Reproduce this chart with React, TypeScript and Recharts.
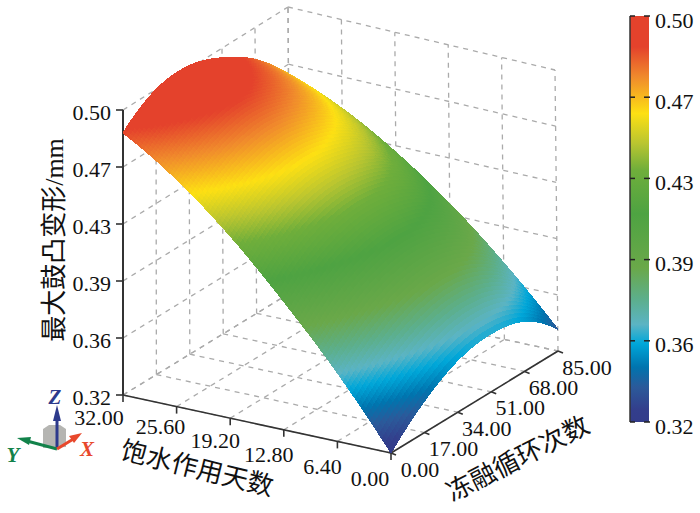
import { ScatterChart, Scatter, XAxis, YAxis, ReferenceLine, ReferenceArea } from "recharts";

const dayTicks = [32, 25.6, 19.2, 12.8, 6.4, 0];
const cycleTicks = [0, 17, 34, 51, 68, 85];
const zTicks = [0.5, 0.464, 0.428, 0.392, 0.356, 0.32];
const dayLabels = ["32.00", "25.60", "19.20", "12.80", "6.40", "0.00"];
const cycleLabels = ["0.00", "17.00", "34.00", "51.00", "68.00", "85.00"];
const zLabels = ["0.50", "0.47", "0.43", "0.39", "0.36", "0.32"];

// deformation: one row per day tick, one column per cycle tick
const deformation = [
  [0.4855, 0.5, 0.502, 0.494, 0.48, 0.458],
  [0.464, 0.479, 0.4845, 0.479, 0.466, 0.444],
  [0.436, 0.453, 0.4595, 0.456, 0.445, 0.424],
  [0.402, 0.42, 0.4285, 0.428, 0.419, 0.399],
  [0.364, 0.383, 0.394, 0.396, 0.388, 0.369],
  [0.32, 0.34, 0.353, 0.357, 0.352, 0.334],
];

const colorStops: [number, string][] = [
  [0, "#333c8a"],
  [0.03, "#333e8c"],
  [0.086, "#2b5a9a"],
  [0.135, "#0074ae"],
  [0.193, "#00a7d9"],
  [0.24, "#5bb4c4"],
  [0.3, "#5caf8e"],
  [0.38, "#6aa849"],
  [0.513, "#4ea342"],
  [0.62, "#6fae3b"],
  [0.686, "#b9c530"],
  [0.76, "#fde013"],
  [0.85, "#f08a2c"],
  [0.924, "#e4422c"],
  [1, "#e4422c"],
];

const FONT = '"Liberation Serif", "Noto Sans CJK SC", serif';
const WIDTH = 700;
const HEIGHT = 513;

// corners of the plot box in chart units
const floorA = [123, 395];
const floorB = [391, 453];
const floorC = [558, 351];
const floorD = [290, 293];
const topA = [123, 110];
const topB = [390, 173];
const topC = [555, 70];
const topD = [288, 7];

function project(days: number, cycles: number, z: number) {
  const u = 1 - days / 32;
  const v = cycles / 85;
  const w = (z - 0.32) / 0.18;
  const at = (i: number) => {
    const f = (1 - u) * (1 - v) * floorA[i] + u * (1 - v) * floorB[i] + (1 - u) * v * floorD[i] + u * v * floorC[i];
    const t = (1 - u) * (1 - v) * topA[i] + u * (1 - v) * topB[i] + (1 - u) * v * topD[i] + u * v * topC[i];
    return f + (t - f) * w;
  };
  return { px: at(0), py: at(1) };
}

function hexRgb(h: string) {
  return [1, 3, 5].map((i) => parseInt(h.slice(i, i + 2), 16));
}

function colorFor(z: number) {
  const f = Math.min(1, Math.max(0, (z - 0.32) / 0.18));
  for (let i = 1; i < colorStops.length; i++) {
    if (f <= colorStops[i][0]) {
      const [f0, c0] = colorStops[i - 1];
      const [f1, c1] = colorStops[i];
      const t = (f - f0) / (f1 - f0);
      const a = hexRgb(c0);
      const b = hexRgb(c1);
      return `rgb(${a.map((x, k) => Math.round(x + (b[k] - x) * t)).join(",")})`;
    }
  }
  return colorStops[colorStops.length - 1][1];
}

// smooth shading between table values, as a surface renderer does
function spline(p: number[], t: number) {
  const n = p.length - 1;
  const i = Math.min(n - 1, Math.floor(t));
  const s = t - i;
  const p0 = p[i];
  const p1 = p[i + 1];
  const m0 = i > 0 ? (p1 - p[i - 1]) / 2 : p1 - p0 - (p[i + 2] - 2 * p1 + p0) / 2;
  const m1 = i < n - 1 ? (p[i + 2] - p0) / 2 : p1 - p0 + (p1 - 2 * p0 + p[i - 1]) / 2;
  return (
    (2 * s ** 3 - 3 * s ** 2 + 1) * p0 +
    (s ** 3 - 2 * s ** 2 + s) * m0 +
    (-2 * s ** 3 + 3 * s ** 2) * p1 +
    (s ** 3 - s ** 2) * m1
  );
}

function surfaceZ(r: number, c: number) {
  const col = deformation.map((row) => spline(row, c));
  return spline(col, r);
}

const SHADE = 18;
const nShade = SHADE * (dayTicks.length - 1);
const mShade = SHADE * (cycleTicks.length - 1);

const surfaceCells: any[] = [];
const vertex = (i: number, j: number) => {
  const r = i / SHADE;
  const c = j / SHADE;
  const z = surfaceZ(r, c);
  return { ...project(32 - r * 6.4, c * 17, z), z };
};
// back to front so nearer cells paint over farther ones
for (let i = 0; i < nShade; i++) {
  for (let j = mShade - 1; j >= 0; j--) {
    const a = vertex(i, j);
    const b = vertex(i + 1, j);
    const c = vertex(i + 1, j + 1);
    const d = vertex(i, j + 1);
    surfaceCells.push({
      px: a.px,
      py: a.py,
      offs: [b, c, d].map((q) => [q.px - a.px, q.py - a.py]),
      fill: colorFor((a.z + b.z + c.z + d.z) / 4),
    });
  }
}

const CellShape = (props: any) => {
  const { cx, cy, payload } = props;
  const pts = [[0, 0], ...payload.offs].map(([x, y]: number[]) => `${cx + x},${cy + y}`).join(" ");
  return <polygon points={pts} fill={payload.fill} stroke={payload.fill} strokeWidth={1} shapeRendering="crispEdges" />;
};

const TextShape = (props: any) => {
  const { cx, cy, payload } = props;
  return (
    <text
      x={cx}
      y={cy}
      textAnchor={payload.anchor ?? "middle"}
      dominantBaseline="central"
      fontFamily={FONT}
      fontSize={payload.size ?? 22}
      fill="#111"
      transform={payload.angle ? `rotate(${payload.angle} ${cx} ${cy})` : undefined}
    >
      {payload.text}
    </text>
  );
};

const TriadShape = (props: any) => {
  const { cx, cy } = props;
  const it = { fontFamily: FONT, fontStyle: "italic", fontWeight: 700, fontSize: 21 } as const;
  return (
    <g>
      <path d={`M${cx - 14} ${cy - 1} v-19 l6 -4 h11 l6 4 v18 z`} fill="#b5b5b2" />
      <line x1={cx} y1={cy} x2={cx} y2={cy - 34} stroke="#2d3a8c" strokeWidth={3} />
      <polygon points={`${cx},${cy - 44} ${cx - 4},${cy - 28} ${cx + 4},${cy - 28}`} fill="#2d3a8c" />
      <line x1={cx} y1={cy} x2={cx - 30} y2={cy - 8} stroke="#12824a" strokeWidth={3} />
      <polygon points={`${cx - 40},${cy - 11} ${cx - 26},${cy - 12} ${cx - 28},${cy - 4}`} fill="#12824a" />
      <line x1={cx} y1={cy} x2={cx + 18} y2={cy - 11} stroke="#e8482c" strokeWidth={3} />
      <polygon points={`${cx + 25},${cy - 16} ${cx + 12},${cy - 13} ${cx + 17},${cy - 6}`} fill="#e8482c" />
      <text x={cx - 2} y={cy - 45} textAnchor="middle" fill="#2d3a8c" {...it}>Z</text>
      <text x={cx - 44} y={cy + 13} textAnchor="middle" fill="#12824a" {...it}>Y</text>
      <text x={cx + 30} y={cy + 7} textAnchor="middle" fill="#e8482c" {...it}>X</text>
    </g>
  );
};

// small hand nudges for the day labels, measured against the floor edge
const dayLabelDx = [-24, -16, -15, -15, -15, -21];
const dayLabelDy = [22, 20, 22, 25, 25, 25];

const textPoints = [
  ...zLabels.map((text, i) => ({ px: 111, py: project(32, 0, zTicks[i]).py + 2, text, anchor: "end" })),
  ...dayLabels.map((text, i) => {
    const p = project(dayTicks[i], 0, 0.32);
    return { px: p.px + dayLabelDx[i], py: p.py + dayLabelDy[i], text };
  }),
  ...cycleLabels.map((text, i) => {
    const p = project(0, cycleTicks[i], 0.32);
    return { px: p.px + 29, py: p.py + 16, text };
  }),
  ...zLabels.map((text, i) => ({ px: 655, py: 20 + 81.2 * i, text, anchor: "start" })),
  { px: 54, py: 240, text: "最大鼓凸变形/mm", size: 26, angle: -90 },
  { px: 197, py: 469, text: "饱水作用天数", size: 26, angle: 14 },
  { px: 518, py: 459, text: "冻融循环次数", size: 26, angle: -27 },
];

const seg = (a: { px: number; py: number }, b: { px: number; py: number }) =>
  [{ x: a.px, y: a.py }, { x: b.px, y: b.py }] as any;

const gridSegments = [
  ...zTicks.flatMap((z) => [
    seg(project(32, 0, z), project(32, 85, z)),
    seg(project(32, 85, z), project(0, 85, z)),
  ]),
  ...cycleTicks.map((c) => seg(project(32, c, 0.32), project(32, c, 0.5))),
  ...dayTicks.map((d) => seg(project(d, 85, 0.32), project(d, 85, 0.5))),
  ...cycleTicks.map((c) => seg(project(32, c, 0.32), project(0, c, 0.32))),
  ...dayTicks.map((d) => seg(project(d, 0, 0.32), project(d, 85, 0.32))),
];

const shift = (p: { px: number; py: number }, dx: number, dy: number) => ({ px: p.px + dx, py: p.py + dy });

const axisSegments = [
  seg(project(32, 0, 0.32), project(32, 0, 0.5)),
  seg(project(32, 0, 0.32), project(0, 0, 0.32)),
  seg(project(0, 0, 0.32), project(0, 85, 0.32)),
  ...zTicks.map((z) => seg(project(32, 0, z), shift(project(32, 0, z), -7, 0))),
  ...dayTicks.map((d) => seg(project(d, 0, 0.32), shift(project(d, 0, 0.32), 0, 7))),
  ...cycleTicks.map((c) => seg(project(0, c, 0.32), shift(project(0, c, 0.32), 5, 2))),
];

const barTicks = zTicks.map((_, i) => 16 + 81.2 * i);

export default function App() {
  return (
    <div style={{ position: "absolute", left: 0, top: 0, width: WIDTH, height: HEIGHT }}>
      <style>{`.surface-layer { filter: blur(0.7px); }`}</style>
      <ScatterChart width={WIDTH} height={HEIGHT} margin={{ top: 0, right: 0, bottom: 0, left: 0 }}>
        <defs>
          <linearGradient id="colorbar" x1="0" y1="1" x2="0" y2="0">
            {colorStops.map(([o, c]) => (
              <stop key={o} offset={o} stopColor={c} />
            ))}
          </linearGradient>
        </defs>
        <XAxis type="number" dataKey="px" domain={[0, WIDTH]} hide />
        <YAxis type="number" dataKey="py" domain={[0, HEIGHT]} reversed hide />
        {gridSegments.map((s, i) => (
          <ReferenceLine key={i} segment={s} stroke="#aaaaaa" strokeWidth={1.3} strokeDasharray="5 5" />
        ))}
        <ReferenceArea x1={630} x2={649} y1={16} y2={422} fill="url(#colorbar)" fillOpacity={1} stroke="none" />
        <ReferenceLine segment={[{ x: 630, y: 16 }, { x: 630, y: 422 }]} stroke="#333" strokeWidth={1.5} />
        {barTicks.map((y) => (
          <ReferenceLine key={`bl${y}`} segment={[{ x: 630, y }, { x: 635, y }]} stroke="#222" strokeWidth={1.5} />
        ))}
        {barTicks.map((y) => (
          <ReferenceLine key={`br${y}`} segment={[{ x: 644, y }, { x: 650, y }]} stroke="#222" strokeWidth={1.5} />
        ))}
        <Scatter className="surface-layer" data={surfaceCells} shape={CellShape} isAnimationActive={false} />
        {axisSegments.map((s, i) => (
          <ReferenceLine key={`a${i}`} segment={s} stroke="#333" strokeWidth={i === 0 ? 2 : 1.6} isFront />
        ))}
        <Scatter data={[{ px: 57, py: 449 }]} shape={TriadShape} isAnimationActive={false} />
        <Scatter data={textPoints} shape={TextShape} isAnimationActive={false} />
      </ScatterChart>
    </div>
  );
}
